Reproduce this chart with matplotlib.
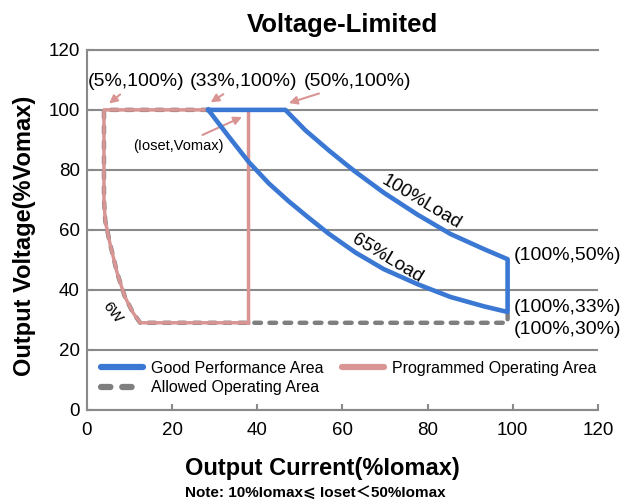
import matplotlib
matplotlib.use("Agg")
import matplotlib.pyplot as plt

plt.rcParams['font.family'] = ['Liberation Sans', 'Noto Sans CJK SC', 'DejaVu Sans']

# Good Performance Area: 100%Load curve (outer) and 65%Load curve (inner)
outer_i = [46.6, 51.3, 56.8, 60.7, 63.1, 69.7, 77.6, 85.4, 93.2, 98.8]
outer_v = [100, 93.2, 86.5, 82.0, 79.3, 72.4, 65.1, 58.6, 53.6, 50.2]
inner_i = [28.5, 33.2, 37.95, 42.7, 47.4, 52.1, 56.8, 63.1, 69.7, 77.6, 85.4, 93.2, 98.8]
inner_v = [100, 91.3, 82.7, 75.5, 69.5, 64.0, 58.7, 52.4, 46.9, 41.9, 37.6, 34.5, 32.6]

# Programmed Operating Area
pink_i = [37.95, 37.95, 4.0, 4.0, 4.3, 5.4, 7.1, 8.9, 10.8, 12.5, 37.95]
pink_v = [29, 100, 100, 70, 63, 55.5, 45.6, 37.7, 32.4, 29, 29]

# Allowed Operating Area
gray_i = [28.5, 4.0, 4.0, 4.3, 5.4, 7.1, 8.9, 10.8, 12.5, 98.8, 98.8]
gray_v = [100, 100, 70, 63, 55.5, 45.6, 37.7, 32.4, 29, 29, 32]

ticks = [0, 20, 40, 60, 80, 100, 120]

blue = '#3a78d3'
pink = '#d99593'
gray = '#7f7f7f'

# closed outline of the good performance area
blue_i = [inner_i[0]] + outer_i + inner_i[::-1]
blue_v = [inner_v[0]] + outer_v + inner_v[::-1]

fig = plt.figure(figsize=(6.3, 5.04), dpi=100)
ax = fig.add_axes([0.138, 0.187, 0.811, 0.714])

ax.plot(gray_i, gray_v, color=gray, lw=3.2, linestyle=(0, (1.5, 1.9)),
        dash_capstyle='round', label='Allowed Operating Area', zorder=3)
ax.plot(pink_i, pink_v, color=pink, lw=2.5, solid_joinstyle='round',
        label='Programmed Operating Area', zorder=4)
ax.plot(blue_i, blue_v, color=blue, lw=3.3, solid_joinstyle='round',
        label='Good Performance Area', zorder=5)

ax.set_xlim(0, 120)
ax.set_ylim(0, 120)
ax.set_xticks(ticks)
ax.set_yticks(ticks)
ax.yaxis.grid(True, color='#8a8a8a', lw=1.5)
ax.set_axisbelow(True)
ax.spines['right'].set_visible(False)
for s in ['left', 'bottom', 'top']:
    ax.spines[s].set_color('#8a8a8a')
    ax.spines[s].set_linewidth(1.5)
ax.tick_params(axis='both', direction='in', length=4, width=1.5, color='#8a8a8a',
               labelsize=13.5)
ax.tick_params(axis='x', pad=9)
ax.tick_params(axis='y', pad=5)

ax.set_title('Voltage-Limited', fontsize=18.5, fontweight='bold', pad=13)
fig.text(0.512, 1 - 468 / 504, 'Output Current(%Iomax)', fontsize=17,
         fontweight='bold', ha='center', va='center')
fig.text(25 / 630, 1 - 236 / 504, 'Output Voltage(%Vomax)', fontsize=17,
         fontweight='bold', ha='center', va='center', rotation=90)
fig.text(0.5, 1 - 494 / 504, 'Note: 10%Iomax⩽ Ioset＜50%Iomax', fontsize=11,
         fontweight='bold', ha='center', va='center')

arrow = dict(arrowstyle='-|>', color=pink, lw=1.5, mutation_scale=12)
ax.annotate('(5%,100%)', xy=(4.7, 101.5), xytext=(11.5, 109.5), fontsize=14,
            ha='center', va='center', arrowprops=arrow)
ax.annotate('(33%,100%)', xy=(28.5, 102), xytext=(36.7, 109.5), fontsize=14,
            ha='center', va='center', arrowprops=arrow)
ax.annotate('(50%,100%)', xy=(46.8, 102), xytext=(63.5, 109.5), fontsize=14,
            ha='center', va='center', arrowprops=arrow)
ax.annotate('(Ioset,Vomax)', xy=(37.0, 98), xytext=(21.5, 88), fontsize=10.5,
            ha='center', va='center', arrowprops=arrow)

ax.text(100.3, 51.5, '(100%,50%)', fontsize=14, va='center', ha='left')
ax.text(100.3, 34.2, '(100%,33%)', fontsize=14, va='center', ha='left')
ax.text(100.3, 26.6, '(100%,30%)', fontsize=14, va='center', ha='left')
ax.text(78.6, 69.3, '100%Load', fontsize=13.5, rotation=-31, ha='center', va='center')
ax.text(70.6, 50.3, '65%Load', fontsize=13.5, rotation=-31, ha='center', va='center')
ax.text(6.0, 32.5, '6W', fontsize=11, rotation=-52, ha='center', va='center')

h, l = ax.get_legend_handles_labels()
order = [2, 0, 1]
leg = ax.legend([h[i] for i in order], [l[i] for i in order], ncol=2, frameon=False,
                loc='lower left', bbox_to_anchor=(0.0, 0.0), fontsize=11.5,
                handlelength=2.6, columnspacing=1.2, labelspacing=0.3, handletextpad=0.5)
for line in leg.get_lines():
    line.set_linewidth(4.5)
    line.set_solid_capstyle('round')
    line.set_dash_capstyle('round')

fig.savefig('out.png', dpi=100)
